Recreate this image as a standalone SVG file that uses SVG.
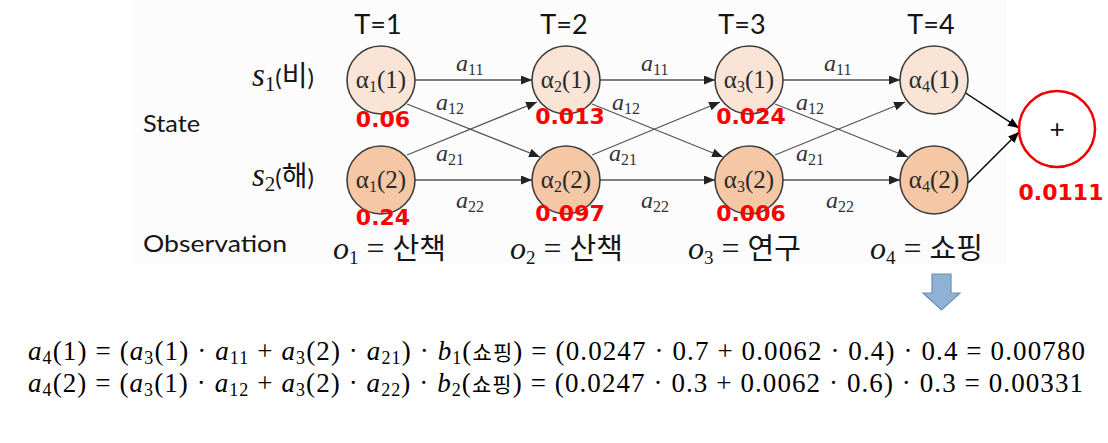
<svg xmlns="http://www.w3.org/2000/svg" width="1108" height="443" viewBox="0 0 1108 443">
<style>
.lbl{font-family:Lato,"Noto Sans CJK KR",sans-serif;font-size:24px;fill:#151515}
.hd{font-size:27px}
.kr{font-family:"Noto Sans CJK KR",sans-serif}
.m{font-family:"Liberation Serif",serif;font-style:italic}
.up{font-family:"Liberation Serif",serif;font-style:normal}
.red{font-family:"DejaVu Sans",sans-serif;font-weight:bold;font-size:22px;fill:#ff0000}
.el{font-family:"Liberation Serif",serif;font-style:italic;font-size:24px;fill:#333}
.es{font-style:normal;font-size:16px}
.n{font-family:"Liberation Serif",serif;font-size:25px;fill:#2a2a2a}
.ns{font-size:16px}
.top{fill:#f9e4d5;stroke:#3d3d3d;stroke-width:1.6}
.bot{fill:#f5c7a5;stroke:#3d3d3d;stroke-width:1.6}
.ed{stroke:#555;stroke-width:1.3;fill:none;marker-end:url(#ah)}
.ek{stroke:#000;stroke-width:1.4;fill:none;marker-end:url(#ak)}
.f{font-family:"Liberation Serif",serif;font-size:27px;fill:#000}
.fi{font-style:italic}
.fs{font-size:18px}
</style>
<defs>
<marker id="ah" markerUnits="userSpaceOnUse" markerWidth="12" markerHeight="10" refX="11" refY="4.5" orient="auto"><path d="M0,0 L11,4.5 L0,9 z" fill="#222"/></marker>
<marker id="ak" markerUnits="userSpaceOnUse" markerWidth="12" markerHeight="10" refX="11" refY="4.5" orient="auto"><path d="M0,0 L11,4.5 L0,9 z" fill="#000"/></marker>
</defs>
<rect x="0" y="0" width="1108" height="443" fill="#ffffff"/>
<rect x="130" y="0" width="877" height="264" fill="#fcfcfc"/>

<g id="headers">
<text class="lbl hd" x="378" y="34" text-anchor="middle">T=1</text>
<text class="lbl hd" x="564" y="34" text-anchor="middle">T=2</text>
<text class="lbl hd" x="742" y="34" text-anchor="middle">T=3</text>
<text class="lbl hd" x="931" y="34" text-anchor="middle">T=4</text>
</g>
<g id="rowlabels">
<text class="lbl" x="252" y="86" font-size="30"><tspan class="m" font-size="33">s</tspan><tspan class="up" font-size="21" dy="5">1</tspan><tspan dy="-5">(</tspan><tspan class="kr" font-size="28">비</tspan><tspan>)</tspan></text>
<text class="lbl" x="252" y="186" font-size="30"><tspan class="m" font-size="33">s</tspan><tspan class="up" font-size="21" dy="5">2</tspan><tspan dy="-5">(</tspan><tspan class="kr" font-size="28">해</tspan><tspan>)</tspan></text>
<text class="lbl" x="143" y="132" textLength="57" lengthAdjust="spacingAndGlyphs">State</text>
<text class="lbl" x="143" y="252" textLength="144" lengthAdjust="spacingAndGlyphs">Observation</text>
</g>
<g id="observations">
<text class="lbl" x="333" y="259"><tspan class="m" font-size="32">o</tspan><tspan class="up" font-size="19" dy="5">1</tspan><tspan class="up" dy="-5" font-size="32"> = </tspan><tspan class="kr" font-size="29">산책</tspan></text>
<text class="lbl" x="510" y="259"><tspan class="m" font-size="32">o</tspan><tspan class="up" font-size="19" dy="5">2</tspan><tspan class="up" dy="-5" font-size="32"> = </tspan><tspan class="kr" font-size="29">산책</tspan></text>
<text class="lbl" x="688" y="259"><tspan class="m" font-size="32">o</tspan><tspan class="up" font-size="19" dy="5">3</tspan><tspan class="up" dy="-5" font-size="32"> = </tspan><tspan class="kr" font-size="29">연구</tspan></text>
<text class="lbl" x="870" y="259"><tspan class="m" font-size="32">o</tspan><tspan class="up" font-size="19" dy="5">4</tspan><tspan class="up" dy="-5" font-size="32"> = </tspan><tspan class="kr" font-size="29">쇼핑</tspan></text>
</g>

<g id="connectors">
<line class="ed" x1="415" y1="80" x2="532" y2="80"/>
<line class="ed" x1="415" y1="180" x2="532" y2="180"/>
<line class="ed" x1="407" y1="104" x2="540" y2="157"/>
<line class="ed" x1="407" y1="155" x2="537" y2="102"/>
<line class="ed" x1="600" y1="80" x2="715" y2="80"/>
<line class="ed" x1="600" y1="180" x2="715" y2="180"/>
<line class="ed" x1="592" y1="104" x2="723" y2="157"/>
<line class="ed" x1="592" y1="155" x2="720" y2="102"/>
<line class="ed" x1="783" y1="80" x2="900" y2="80"/>
<line class="ed" x1="783" y1="180" x2="900" y2="180"/>
<line class="ed" x1="775" y1="104" x2="908" y2="157"/>
<line class="ed" x1="775" y1="155" x2="905" y2="102"/>
<line class="ek" x1="958" y1="88" x2="1019" y2="128"/>
<line class="ek" x1="968" y1="183" x2="1019" y2="132"/>
</g>

<g id="edge-labels">
<text class="el" x="456" y="71">a<tspan class="es" dy="4">11</tspan></text>
<text class="el" x="641" y="71">a<tspan class="es" dy="4">11</tspan></text>
<text class="el" x="824" y="71">a<tspan class="es" dy="4">11</tspan></text>
<text class="el" x="436" y="110">a<tspan class="es" dy="4">12</tspan></text>
<text class="el" x="612" y="110">a<tspan class="es" dy="4">12</tspan></text>
<text class="el" x="796" y="110">a<tspan class="es" dy="4">12</tspan></text>
<text class="el" x="436" y="161">a<tspan class="es" dy="4">21</tspan></text>
<text class="el" x="609" y="161">a<tspan class="es" dy="4">21</tspan></text>
<text class="el" x="796" y="161">a<tspan class="es" dy="4">21</tspan></text>
<text class="el" x="456" y="208">a<tspan class="es" dy="4">22</tspan></text>
<text class="el" x="641" y="208">a<tspan class="es" dy="4">22</tspan></text>
<text class="el" x="826" y="208">a<tspan class="es" dy="4">22</tspan></text>
</g>

<g id="n11"><circle class="top" cx="381" cy="80" r="34"/><text class="n" x="381" y="88" text-anchor="middle">α<tspan class="ns" dy="4">1</tspan><tspan dy="-4">(1)</tspan></text></g>
<g id="n12"><circle class="bot" cx="381" cy="180" r="34"/><text class="n" x="381" y="188" text-anchor="middle">α<tspan class="ns" dy="4">1</tspan><tspan dy="-4">(2)</tspan></text></g>
<g id="n21"><circle class="top" cx="566" cy="80" r="34"/><text class="n" x="566" y="88" text-anchor="middle">α<tspan class="ns" dy="4">2</tspan><tspan dy="-4">(1)</tspan></text></g>
<g id="n22"><circle class="bot" cx="566" cy="180" r="34"/><text class="n" x="566" y="188" text-anchor="middle">α<tspan class="ns" dy="4">2</tspan><tspan dy="-4">(2)</tspan></text></g>
<g id="n31"><circle class="top" cx="749" cy="80" r="34"/><text class="n" x="749" y="88" text-anchor="middle">α<tspan class="ns" dy="4">3</tspan><tspan dy="-4">(1)</tspan></text></g>
<g id="n32"><circle class="bot" cx="749" cy="180" r="34"/><text class="n" x="749" y="188" text-anchor="middle">α<tspan class="ns" dy="4">3</tspan><tspan dy="-4">(2)</tspan></text></g>
<g id="n41"><circle class="top" cx="934" cy="80" r="34"/><text class="n" x="934" y="88" text-anchor="middle">α<tspan class="ns" dy="4">4</tspan><tspan dy="-4">(1)</tspan></text></g>
<g id="n42"><circle class="bot" cx="934" cy="180" r="34"/><text class="n" x="934" y="188" text-anchor="middle">α<tspan class="ns" dy="4">4</tspan><tspan dy="-4">(2)</tspan></text></g>
<g id="sum"><circle cx="1057" cy="129" r="38" fill="#ffffff" stroke="#ee0000" stroke-width="2.5"/><text x="1057" y="138" text-anchor="middle" font-family="Liberation Sans, sans-serif" font-size="26" fill="#111">+</text></g>

<g id="values">
<text class="red" x="383" y="127" text-anchor="middle">0.06</text>
<text class="red" x="383" y="225" text-anchor="middle">0.24</text>
<text class="red" x="570" y="124" text-anchor="middle">0.013</text>
<text class="red" x="570" y="221" text-anchor="middle">0.097</text>
<text class="red" x="751" y="124" text-anchor="middle">0.024</text>
<text class="red" x="751" y="221" text-anchor="middle">0.006</text>
<text class="red" x="1061" y="200" text-anchor="middle">0.0111</text>
</g>

<g id="down-arrow"><polygon points="932,274 951,274 951,293 960,293 941.5,310 923,293 932,293" fill="#8fb2d4" stroke="#6c90b6" stroke-width="1.2"/></g>

<g id="formulas">
<text class="f" x="28" y="360" textLength="1057" lengthAdjust="spacing"><tspan class="fi">a</tspan><tspan class="fs" dy="4">4</tspan><tspan dy="-4">(1) = (</tspan><tspan class="fi">a</tspan><tspan class="fs" dy="4">3</tspan><tspan dy="-4">(1) · </tspan><tspan class="fi">a</tspan><tspan class="fs" dy="4">11</tspan><tspan dy="-4"> + </tspan><tspan class="fi">a</tspan><tspan class="fs" dy="4">3</tspan><tspan dy="-4">(2) · </tspan><tspan class="fi">a</tspan><tspan class="fs" dy="4">21</tspan><tspan dy="-4">) · </tspan><tspan class="fi">b</tspan><tspan class="fs" dy="4">1</tspan><tspan dy="-4">(</tspan><tspan class="kr" font-size="21">쇼핑</tspan><tspan>) = (0.0247 · 0.7 + 0.0062 · 0.4) · 0.4 = 0.00780</tspan></text>
<text class="f" x="28" y="392" textLength="1055" lengthAdjust="spacing"><tspan class="fi">a</tspan><tspan class="fs" dy="4">4</tspan><tspan dy="-4">(2) = (</tspan><tspan class="fi">a</tspan><tspan class="fs" dy="4">3</tspan><tspan dy="-4">(1) · </tspan><tspan class="fi">a</tspan><tspan class="fs" dy="4">12</tspan><tspan dy="-4"> + </tspan><tspan class="fi">a</tspan><tspan class="fs" dy="4">3</tspan><tspan dy="-4">(2) · </tspan><tspan class="fi">a</tspan><tspan class="fs" dy="4">22</tspan><tspan dy="-4">) · </tspan><tspan class="fi">b</tspan><tspan class="fs" dy="4">2</tspan><tspan dy="-4">(</tspan><tspan class="kr" font-size="21">쇼핑</tspan><tspan>) = (0.0247 · 0.3 + 0.0062 · 0.6) · 0.3 = 0.00331</tspan></text>
</g>
</svg>
